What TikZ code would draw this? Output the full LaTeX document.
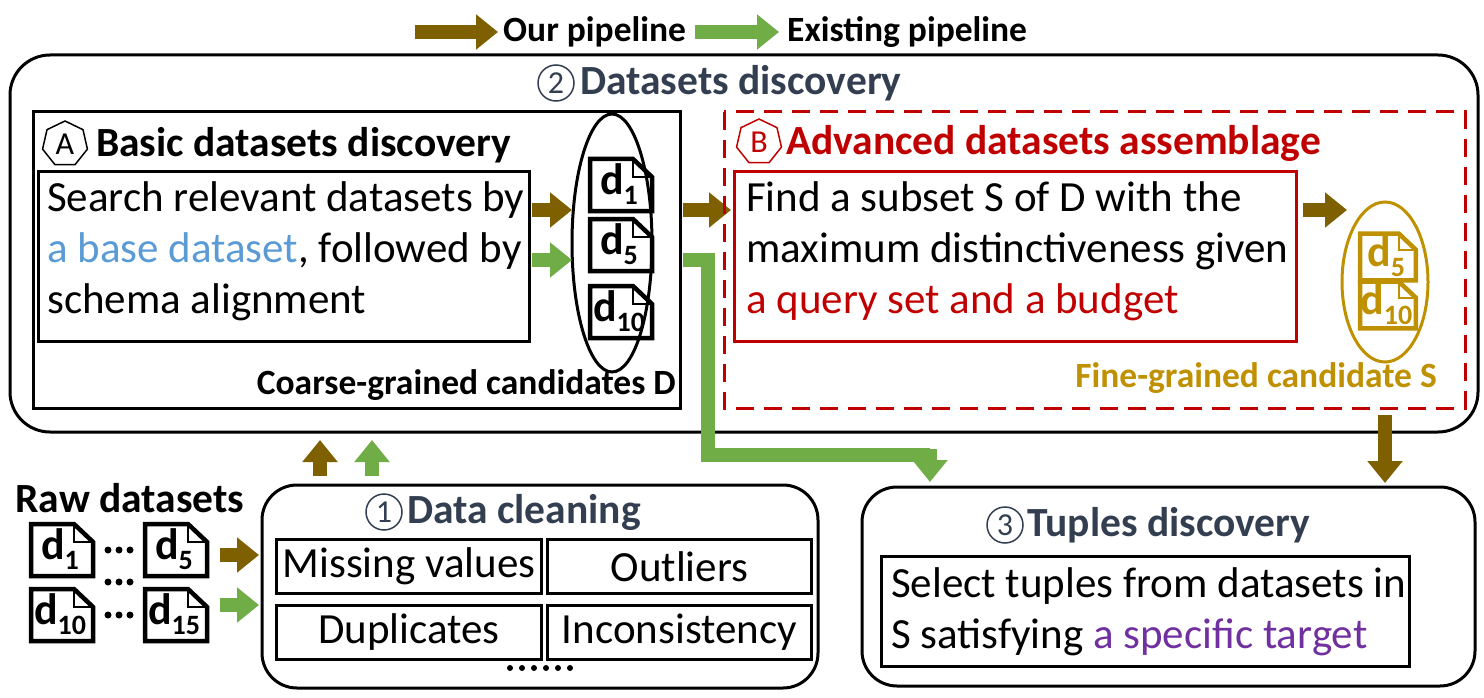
\documentclass[tikz,border=0pt]{standalone}
\usepackage{fontspec}
\setmainfont{Carlito}
\usetikzlibrary{shapes.geometric,arrows.meta}
\definecolor{brn}{HTML}{7F6000}
\definecolor{grn}{HTML}{70AD47}
\definecolor{lblue}{HTML}{5B9BD5}
\definecolor{dred}{HTML}{C00000}
\definecolor{gold}{HTML}{BF9000}
\definecolor{purp}{HTML}{7030A0}
\definecolor{ttl}{HTML}{333F50}
\tikzset{
  body/.style={font=\fontsize{43}{51}\selectfont, align=left, inner sep=0pt},
  ttlf/.style={font=\fontsize{41.5}{44}\selectfont\bfseries, inner sep=0pt},
  small/.style={font=\fontsize{35.5}{38}\selectfont\bfseries, inner sep=0pt},
  fat/.style={-{Triangle[length=22pt,width=34pt]}, line width=14pt},
  circnum/.style={circle, draw=ttl, line width=1.5pt, minimum size=36pt, inner sep=0pt, text=ttl, font=\fontsize{32}{32}\selectfont},
  hept/.style={regular polygon, regular polygon sides=7, draw, line width=1.5pt, minimum size=46pt, inner sep=0pt, font=\fontsize{32}{32}\selectfont},
  pics/doc/.style args={#1/#2}{code={
    \draw[line width=4.5pt, #2] (-31,-26) -- (12,-26) -- (31,-8) -- (31,26) -- (-31,26) -- cycle;
    \draw[line width=2.5pt, #2] (12,-26) -- (12,-8) -- (31,-8);
    \node[#2, inner sep=0pt, font=\fontsize{44}{44}\selectfont\bfseries] at (-2,-1) {d\raisebox{-10pt}{\fontsize{28}{28}\selectfont #1}};
  }},
}
\begin{document}
\begin{tikzpicture}[x=1pt,y=-1pt]
\useasboundingbox (0,0) rectangle (1484,698);
% legend
\draw[fat,brn] (415,32) -- (498,32);
\node[small,anchor=west] (lg1) at (503,32) {Our pipeline};
\draw[fat,grn] (695,32) -- (779,32);
\node[small,anchor=west] (lg2) at (787,32) {Existing pipeline};
% big box
\draw[line width=3pt, rounded corners=40pt] (10,55) rectangle (1478,432);
\node[circnum] (c2) at (556,83) {2};
\node[ttlf,text=ttl,anchor=west] (t2) at (580,83) {Datasets discovery};
% box A
\draw[line width=3pt] (33,112) rectangle (680,408);
\node[hept] (ha) at (65,144) {A};
\node[ttlf,anchor=west] (ta) at (96,145) {Basic datasets discovery};
\node[draw,line width=3pt,minimum width=491pt,minimum height=170pt,anchor=north west] (ia) at (37,170) {};
\node[body,anchor=north west] (sa) at (47,181) {Search relevant datasets by\\\textcolor{lblue}{a base dataset}, followed by\\schema alignment};
\node[small,anchor=east] (ca) at (676,385) {Coarse-grained candidates D};
\draw[line width=3pt] (612,243) ellipse (40pt and 129pt);
\pic at (621,185) {doc=1/black};
\pic at (621,245) {doc=5/black};
\pic at (621,312) {doc=10/black};
\draw[fat,brn] (532,210) -- (572,210);
\draw[fat,grn] (532,260) -- (572,260);
\draw[fat,brn] (683,210) -- (731,210);
% box B
\draw[line width=3pt, dred, dash pattern=on 18pt off 10pt] (724,112) rectangle (1465,408);
\node[hept,draw=dred,text=dred] (hb) at (759,142) {B};
\node[ttlf,text=dred,anchor=west] (tb) at (786,143) {Advanced datasets assemblage};
\node[draw=dred,line width=3pt,minimum width=562pt,minimum height=170pt,anchor=north west] (ib) at (733,170) {};
\node[body,anchor=north west] (sb) at (746,181) {Find a subset S of D with the\\maximum distinctiveness given\\\textcolor{dred}{a query set and a budget}};
\draw[fat,brn] (1303,210) -- (1347,210);
\draw[line width=3pt,gold] (1385,282) ellipse (43pt and 80pt);
\pic[scale=0.9] at (1388,257) {doc=5/gold};
\pic[scale=0.9] at (1388,305) {doc=10/gold};
\node[small,text=gold,anchor=east] (cb) at (1437,378) {Fine-grained candidate S};
% green route
\draw[line width=14pt,grn] (683,260) -- (708,260) -- (708,455) -- (930,455);
\draw[fat,grn] (930,449) -- (930,482);
\draw[fat,brn] (1385,415) -- (1385,483);
% up arrows
\draw[fat,brn] (320,476) -- (320,440);
\draw[fat,grn] (372,476) -- (372,440);
% box 1
\draw[line width=3pt, rounded corners=35pt] (262,485) rectangle (818,688);
\node[circnum] (c1) at (384,512) {1};
\node[ttlf,text=ttl,anchor=west] (t1) at (407,512) {Data cleaning};
\node[draw,line width=3pt,minimum width=265pt,minimum height=54pt,anchor=north west,body] (m1) at (275,538) {Missing values};
\node[draw,line width=3pt,minimum width=264pt,minimum height=54pt,anchor=north west,body] (m2) at (546,538) {Outliers};
\node[draw,line width=3pt,minimum width=265pt,minimum height=54pt,anchor=north west,body] (m3) at (275,604) {Duplicates};
\node[draw,line width=3pt,minimum width=264pt,minimum height=54pt,anchor=north west,body] (m4) at (546,604) {Inconsistency};
\foreach \x in {0,1,2,3,4,5} \fill (510+\x*12,668) circle (3pt);
% raw datasets
\node[ttlf,anchor=center] (raw) at (130,498) {Raw datasets};
\pic at (62,550) {doc=1/black};
\pic at (176,550) {doc=5/black};
\pic at (62,615) {doc=10/black};
\pic at (176,615) {doc=15/black};
\foreach \y in {550,615} \foreach \x in {108,119,130} \fill (\x,\y) circle (3.5pt);
\foreach \x in {108,119,130} \fill (\x,582) circle (3.5pt);
\draw[fat,brn] (220,555) -- (259,555);
\draw[fat,grn] (220,605) -- (259,605);
% box 3
\draw[line width=3pt, rounded corners=35pt] (862,487) rectangle (1475,686);
\node[circnum] (c3) at (1005,525) {3};
\node[ttlf,text=ttl,anchor=west] (t3) at (1027,525) {Tuples discovery};
\node[draw,line width=3pt,minimum width=528pt,minimum height=110pt,anchor=north west] (i3) at (880,555) {};
\node[body,anchor=north west] (s3) at (891,567) {Select tuples from datasets in\\S satisfying \textcolor{purp}{a specific target}};
\end{tikzpicture}
\end{document}
